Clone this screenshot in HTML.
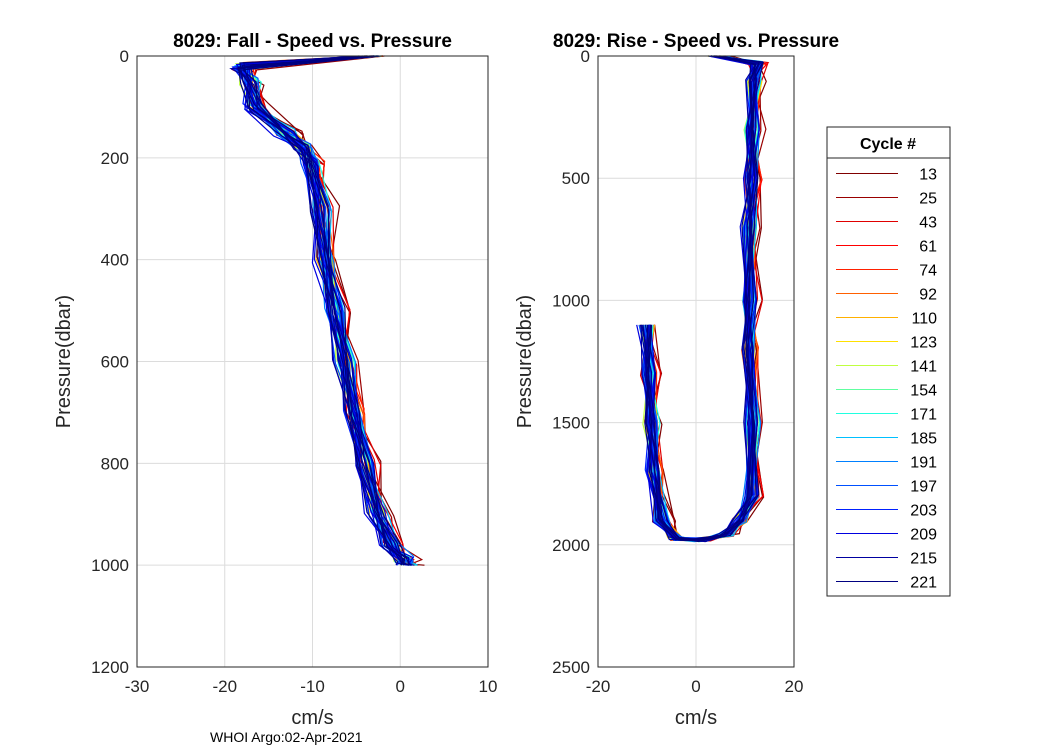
<!DOCTYPE html>
<html><head><meta charset="utf-8"><style>
body{margin:0;background:#fff;}
svg{font-family:"Liberation Sans",Arial,sans-serif;}
</style></head><body>
<svg id="fig" width="1050" height="750" viewBox="0 0 1050 750">
<rect width="1050" height="750" fill="#fff"/>
<g id="left"></g>
<g id="right"></g>
<g id="legend"></g>
<text x="210" y="742" font-size="14">WHOI Argo:02-Apr-2021</text>
</svg>
<script>
const cycles=[13,25,43,61,74,92,110,123,141,154,171,185,191,197,203,209,215,221];
const cycleColors=["#800000","#9a0000","#e00000","#ff0000","#ff2000","#ff6000","#ffb000","#ffe000","#c0ff40","#60ffa0","#20ffe0","#00c0ff","#0080ff","#0050ff","#0020ff","#0000e0","#0000a0","#000080"];
// fall base profile
const fallP=[0,20,50,100,150,180,210,300,400,500,600,700,800,900,960,990,1000];
const fallS=[-3,-18,-17,-16.5,-13,-11,-10,-9,-8.5,-7.3,-6.3,-5.2,-4,-2.5,-1,0.5,1];
// rise base profile
const riseP=[1100,1300,1500,1700,1900,1975,1980,1960,1900,1800,1500,1200,1000,700,500,300,100,30,0];
const riseS=[-10,-9.5,-9,-8.5,-7,-4,1,6,9,11.5,11.5,11,11,11,11.5,11.5,12,12.5,4];
// per-cycle speed offsets (cm/s) and jitter amplitude
const cycleOffset=[0.8,0.6,0.5,0.4,0.3,0.2,0.1,0,-0.1,0.1,0.2,0.3,0.1,0,-0.1,-0.2,-0.1,0];
const jitterAmp=[1.6,1.5,1.4,1.3,1.2,1.1,1,1,1,0.9,0.9,0.9,0.9,0.8,0.8,0.8,0.7,0.6];
const jitter=[0.3,-0.8,0.6,-0.2,0.9,-0.5,0.1,-0.9,0.4,0.7,-0.3,-0.6,0.8,-0.1,0.5,-0.7,0.2,-0.4,0.6];
const repeats=[2,2,2,2,2,2,2,2,2,2,3,3,4,4,4,5,5,5];
const NS="http://www.w3.org/2000/svg";
function mk(parent,tag,attrs){const e=document.createElementNS(NS,tag);for(const k in attrs)e.setAttribute(k,attrs[k]);parent.appendChild(e);return e;}
function panel(g,cfg){
 const {x0,x1,y0,y1,xmin,xmax,pmax,xticks,pticks,title}=cfg;
 const sx=v=>x0+(v-xmin)/(xmax-xmin)*(x1-x0);
 const sy=p=>y0+p/pmax*(y1-y0);
 mk(g,"rect",{x:x0,y:y0,width:x1-x0,height:y1-y0,fill:"#fff"});
 xticks.forEach(t=>{const l=mk(g,"line",{x1:sx(t),x2:sx(t),y1:y0,y2:y1,stroke:"#dcdcdc"});
  
  const tx=mk(g,"text",{x:sx(t),y:y1+25,"font-size":17,"text-anchor":"middle",fill:"#262626"});tx.textContent=t;
  });
 pticks.forEach(t=>{const l=mk(g,"line",{x1:x0,x2:x1,y1:sy(t),y2:sy(t),stroke:"#dcdcdc"});
  
  const tx=mk(g,"text",{x:x0-8,y:sy(t)+6,"font-size":17,"text-anchor":"end",fill:"#262626"});tx.textContent=t;
  });
 cycles.forEach((c,i)=>{
  for(let r=0;r<repeats[i];r++){
   const pts=cfg.P.map((p,k)=>{const j=jitter[(k+i*3+r*5)%jitter.length]*jitterAmp[i]*cfg.amp;
     const dp=(k===0||k===cfg.P.length-1)?0:jitter[(k*2+i+r)%jitter.length]*8;
     return sx(cfg.S[k]+cycleOffset[i]+j+(r-repeats[i]/2)*0.3)+","+sy(p+dp);}).join(" ");
   const pl=mk(g,"polyline",{points:pts,fill:"none",stroke:cycleColors[i],"stroke-width":1.2});
   
  }
 });
 mk(g,"rect",{x:x0,y:y0,width:x1-x0,height:y1-y0,fill:"none",stroke:"#262626"});
 const tt=mk(g,"text",{x:(x0+x1)/2,y:y0-9,"font-size":19,"font-weight":"bold","text-anchor":"middle"});tt.textContent=title;
 
 const xl=mk(g,"text",{x:(x0+x1)/2,y:y1+57,"font-size":20,"text-anchor":"middle",fill:"#262626"});xl.textContent="cm/s";
 
 const yl=mk(g,"text",{x:0,y:0,"font-size":20,"text-anchor":"middle",fill:"#262626",transform:`translate(${cfg.ylx},${(y0+y1)/2}) rotate(-90)`});yl.textContent="Pressure(dbar)";
 
}
panel(document.getElementById('left'),{x0:137,x1:488,y0:56,y1:667,xmin:-30,xmax:10,pmax:1200,xticks:[-30,-20,-10,0,10],pticks:[0,200,400,600,800,1000,1200],title:"8029: Fall - Speed vs. Pressure",P:fallP,S:fallS,ylx:70,amp:1});
panel(document.getElementById('right'),{x0:598,x1:794,y0:56,y1:667,xmin:-20,xmax:20,pmax:2500,xticks:[-20,0,20],pticks:[0,500,1000,1500,2000,2500],title:"8029: Rise - Speed vs. Pressure",P:riseP,S:riseS,ylx:531,amp:1.6});
// legend
const lg=document.getElementById('legend');
mk(lg,"rect",{x:827,y:127,width:123,height:469,fill:"#fff",stroke:"#262626"});
mk(lg,"line",{x1:827,x2:950,y1:158,y2:158,stroke:"#262626"});
const h=mk(lg,"text",{x:888,y:149,"font-size":16,"font-weight":"bold","text-anchor":"middle"});h.textContent="Cycle #";

cycles.forEach((c,i)=>{const y=173.5+i*24;
 const l=mk(lg,"line",{x1:836,x2:898,y1:y,y2:y,stroke:cycleColors[i],"stroke-width":1,"shape-rendering":"crispEdges"});
 
 const t=mk(lg,"text",{x:937,y:y+6,"font-size":16,"text-anchor":"end"});t.textContent=c;
 });
</script>
</body></html>
